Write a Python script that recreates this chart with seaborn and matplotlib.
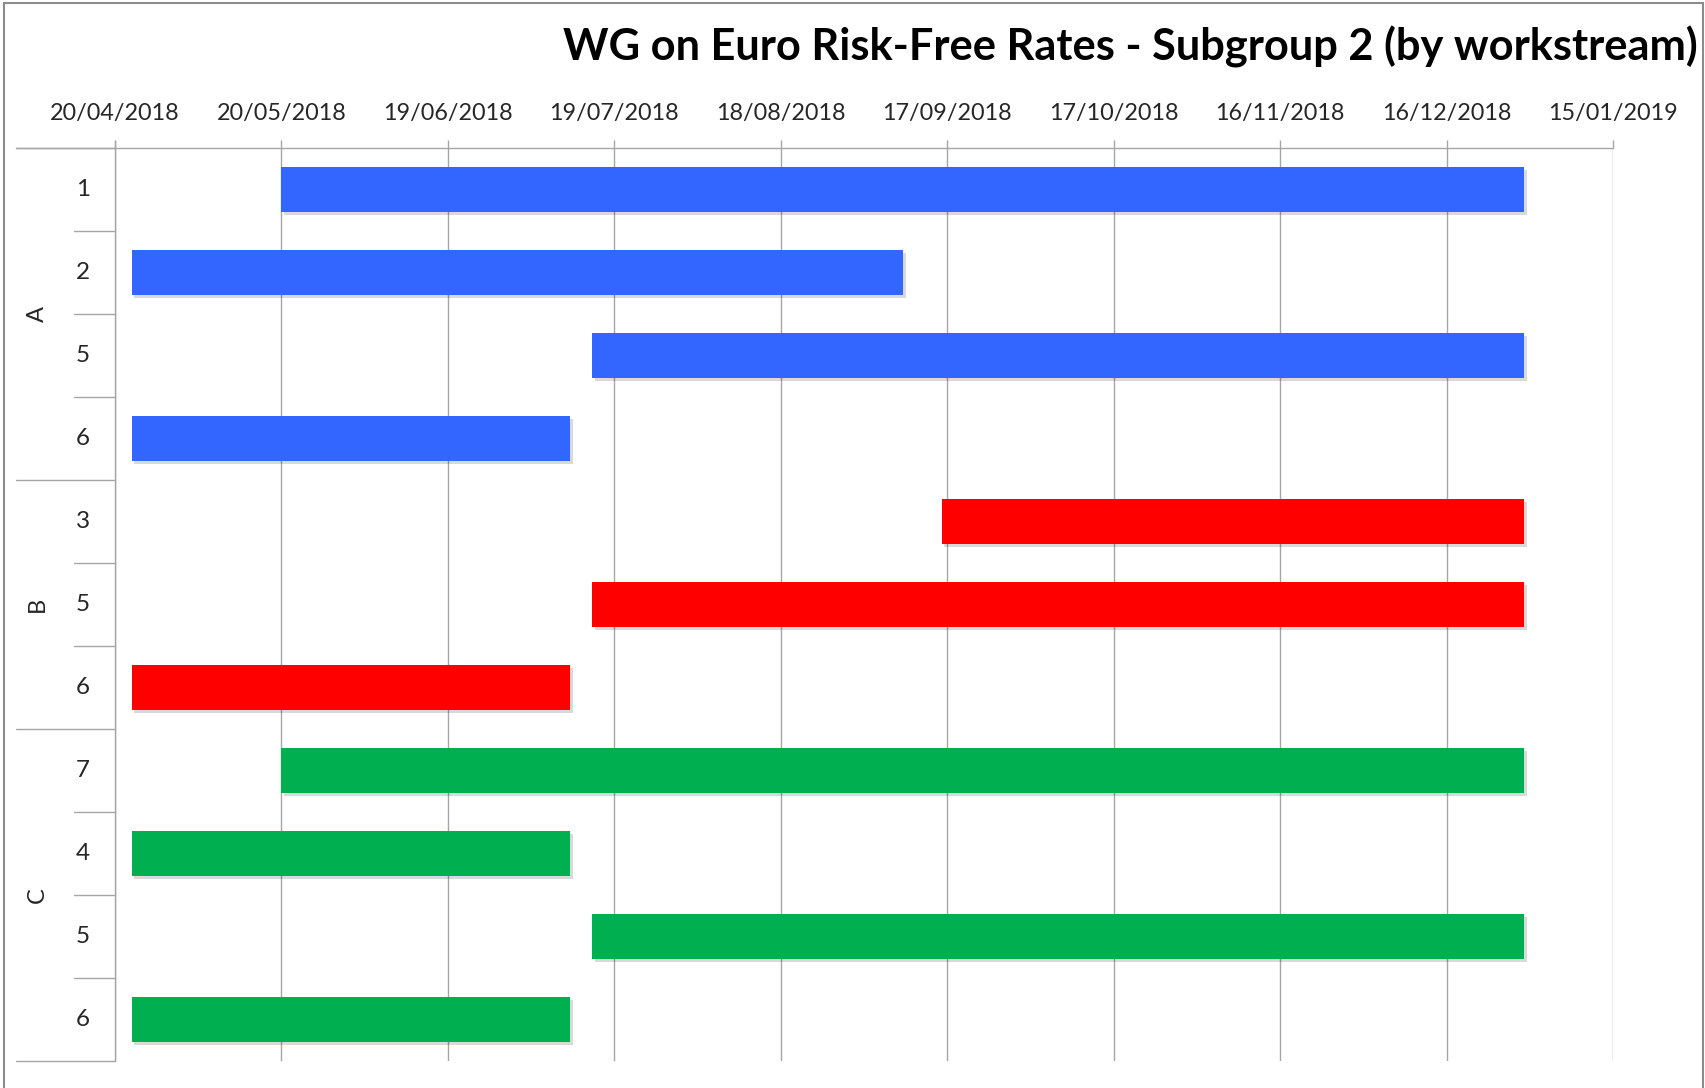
import matplotlib
matplotlib.use("Agg")
import matplotlib.pyplot as plt
import matplotlib.dates as mdates
import matplotlib.patheffects as pe
import matplotlib.transforms as mtrans
from matplotlib.patches import Rectangle
import pandas as pd
import numpy as np
import seaborn as sns

# ---------------- data ----------------
title = "WG on Euro Risk-Free Rates - Subgroup 2 (by workstream)"
groups = ["A", "A", "A", "A", "B", "B", "B", "C", "C", "C", "C"]
workstreams = ["1", "2", "5", "6", "3", "5", "6", "7", "4", "5", "6"]
starts = ["2018-05-20", "2018-04-23", "2018-07-15", "2018-04-23",
          "2018-09-16", "2018-07-15", "2018-04-23",
          "2018-05-20", "2018-04-23", "2018-07-15", "2018-04-23"]
ends = ["2018-12-30", "2018-09-09", "2018-12-30", "2018-07-11",
        "2018-12-30", "2018-12-30", "2018-07-11",
        "2018-12-30", "2018-07-11", "2018-12-30", "2018-07-11"]
tick_labels = ["20/04/2018", "20/05/2018", "19/06/2018", "19/07/2018", "18/08/2018",
               "17/09/2018", "17/10/2018", "16/11/2018", "16/12/2018", "15/01/2019"]
group_colors = {"A": "#3366FF", "B": "#FF0000", "C": "#00B050"}

# ---------------- figure ----------------
sns.set_theme(style="white")
plt.rcParams["font.family"] = ["Lato", "DejaVu Sans"]

W, H = 1705, 1088
fig = plt.figure(figsize=(W / 100, H / 100), dpi=100)
ax = fig.add_axes([115 / W, 1 - 1061 / H, (1613 - 115) / W, (1061 - 148) / H])

rows = [f"{g}-{w}-{i}" for i, (g, w) in enumerate(zip(groups, workstreams))]
start_num = mdates.date2num(pd.to_datetime(starts))
end_num = mdates.date2num(pd.to_datetime(ends))
df = pd.DataFrame({"row": rows, "group": groups, "ws": workstreams,
                   "start": start_num, "dur": end_num - start_num})

shadow = [pe.SimplePatchShadow(offset=(2, -2), shadow_rgbFace="#000000", alpha=0.15),
          pe.Normal()]
for g, sub in df.groupby("group", sort=False):
    sns.barplot(data=sub, y="row", x="dur", order=rows, orient="h",
                color=group_colors[g], saturation=1, width=0.54,
                left=sub["start"].to_numpy(), edgecolor="none", linewidth=0,
                path_effects=shadow, zorder=3, ax=ax)

tick_pos = mdates.date2num(pd.to_datetime(tick_labels, format="%d/%m/%Y"))
ax.set_xlim(tick_pos[0], tick_pos[-1])
ax.set_ylim(len(rows) - 0.5, -0.5)
ax.set_xticks(tick_pos)
ax.set_xticklabels(tick_labels)
ax.xaxis.tick_top()
ax.xaxis.set_label_position("top")
ax.tick_params(axis="x", which="both", top=True, bottom=False, length=6,
               width=1, color="#A6A6A6", pad=11, labelsize=16.8, labelcolor="#262626")
ax.set_xlabel("")
ax.set_ylabel("")
ax.grid(axis="x", color="#A6A6A6", linewidth=1, zorder=0)
ax.set_axisbelow(True)

ax.set_yticks(range(len(rows)))
ax.set_yticklabels([])
ax.tick_params(axis="y", length=0)

for s in ["right", "bottom"]:
    ax.spines[s].set_visible(False)
for s in ["left", "top"]:
    ax.spines[s].set_color("#A6A6A6")
    ax.spines[s].set_linewidth(1)

# ---- two-level category axis (workstream + group) ----
trans = mtrans.blended_transform_factory(fig.transFigure, ax.transData)
x_num = 83 / W
x_grp = 37 / W
x_short = 74 / W
x_long = 16 / W
x_axis = 115 / W
for i, w in enumerate(workstreams):
    ax.text(x_num, i, w, transform=trans, ha="center", va="center",
            fontsize=17.5, color="#262626")
# separators
bounds = [i - 0.5 for i in range(len(groups) + 1)]
for k, b in enumerate(bounds):
    if k == 0 or k == len(bounds) - 1 or groups[k] != groups[k - 1]:
        x0 = x_long
    else:
        x0 = x_short
    ax.plot([x0, x_axis], [b, b], transform=trans, color="#A6A6A6",
            linewidth=1, clip_on=False, zorder=1)
# group labels
for g in dict.fromkeys(groups):
    idx = [i for i, gg in enumerate(groups) if gg == g]
    ax.text(x_grp, (idx[0] + idx[-1]) / 2, g, transform=trans, rotation=90,
            ha="center", va="center", fontsize=17, color="#262626")

# top axis line extends to the left edge of the category area
ytop = 1 - 148 / H
fig.add_artist(plt.Line2D([x_long, x_axis], [ytop, ytop], color="#A6A6A6", linewidth=1))
fig.add_artist(plt.Line2D([x_axis, x_axis], [ytop, ytop + 7 / H], color="#A6A6A6", linewidth=1))

# title
fig.text(1698 / W, 1 - 47 / H, title, ha="right", va="center",
         fontsize=31.2, fontweight="bold", color="#000000")

# outer frame
fig.add_artist(Rectangle((4 / W, -0.05), (1703 - 4) / W, (1085 / H) + 0.05,
                         transform=fig.transFigure, fill=False,
                         edgecolor="#8C8C8C", linewidth=1.5))

fig.savefig("out.png", dpi=100, facecolor="white")
